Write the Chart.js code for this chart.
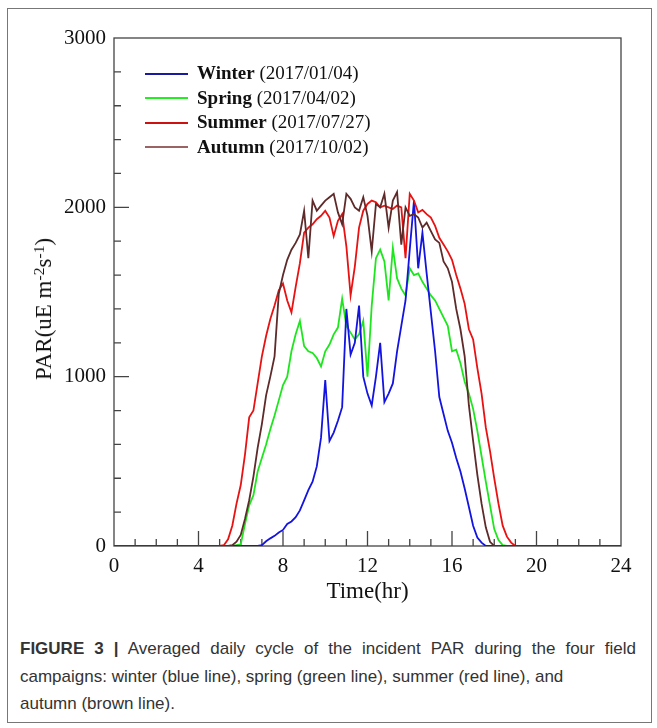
<!DOCTYPE html>
<html>
<head>
<meta charset="utf-8">
<script src="https://cdn.jsdelivr.net/npm/chart.js@4"></script>
<style>
  body { margin: 0; background: #fff; }
  #wrap { position: relative; width: 657px; height: 728px; overflow: hidden; }
  #frame { position: absolute; left: 7px; top: 8px; width: 643px; height: 713px; border: 1px solid #777; }
  #chart { position: absolute; left: 0; top: 0; }
  #legend { position: absolute; left: 145px; top: 61px; font-family: "Liberation Serif", serif; font-size: 19px; color: #111; }
  #legend .row { height: 24.5px; line-height: 24.5px; white-space: nowrap; }
  #legend .swatch { display: inline-block; width: 43px; height: 2px; vertical-align: middle; margin-right: 9px; position: relative; top: -1px; }
  #ytitle { position: absolute; left: 44px; top: 309px; transform: translate(-50%, -50%) rotate(-90deg); white-space: nowrap; font-family: "Liberation Serif", serif; font-size: 23px; color: #111; }
  #ytitle sup { font-size: 0.68em; vertical-align: 0.45em; line-height: 0; }
  #caption { position: absolute; left: 20px; top: 635px; font-family: "Liberation Sans", Arial, sans-serif; font-size: 17px; line-height: 27.5px; color: #333; }
  #caption div { white-space: nowrap; }
  #caption .first { width: 616px; text-align: justify; text-align-last: justify; }
</style>
</head>
<body>
<div id="wrap">
  <div id="frame"></div>
  <canvas id="chart" width="657" height="620"></canvas>
  <div id="ytitle">PAR(uE m<sup>-2</sup>s<sup>-1</sup>)</div>
  <div id="legend"></div>
  <div id="caption">
    <div class="first"><b>FIGURE 3 |</b> Averaged daily cycle of the incident PAR during the four field</div>
    <div>campaigns: winter (blue line), spring (green line), summer (red line), and</div>
    <div>autumn (brown line).</div>
  </div>
</div>
<script>
"use strict";

// time of day (hr), read every 0.2 hr through daylight
let hours = [0,
  5.0, 5.2, 5.4, 5.6, 5.8, 6.0, 6.2, 6.4, 6.6, 6.8,
  7.0, 7.2, 7.4, 7.6, 7.8, 8.0, 8.2, 8.4, 8.6, 8.8,
  9.0, 9.2, 9.4, 9.6, 9.8, 10.0, 10.2, 10.4, 10.6, 10.8,
  11.0, 11.2, 11.4, 11.6, 11.8, 12.0, 12.2, 12.4, 12.6, 12.8,
  13.0, 13.2, 13.4, 13.6, 13.8, 14.0, 14.2, 14.4, 14.6, 14.8,
  15.0, 15.2, 15.4, 15.6, 15.8, 16.0, 16.2, 16.4, 16.6, 16.8,
  17.0, 17.2, 17.4, 17.6, 17.8, 18.0, 18.2, 18.4, 18.6, 18.8,
  19.0, 19.2, 24];

let winter = [0,
  0, 0, 0, 0, 0, 0, 0, 0, 0, 0,
  5, 28, 45, 60, 80, 95, 130, 145, 170, 210,
  270, 330, 380, 470, 640, 980, 620, 670, 740, 820,
  1400, 1130, 1200, 1420, 1000, 900, 830, 1000, 1200, 850,
  900, 960, 1150, 1300, 1450, 1750, 2040, 1640, 1850, 1610,
  1380, 1150, 880, 780, 680, 610, 520, 440, 340, 230,
  120, 50, 20, 0, 0, 0, 0, 0, 0, 0,
  0, 0, 0];

let spring = [0,
  0, 0, 0, 0, 5, 10, 130, 240, 300, 440,
  520, 600, 690, 770, 860, 950, 1000, 1150, 1250, 1330,
  1180, 1150, 1140, 1110, 1060, 1150, 1190, 1250, 1290, 1460,
  1300, 1260, 1220, 1250, 1330, 1000, 1420, 1700, 1750, 1680,
  1450, 1760, 1580, 1520, 1480, 1640, 1600, 1610, 1560, 1520,
  1480, 1450, 1400, 1350, 1300, 1150, 1160, 1080, 970, 900,
  810, 680, 530, 380, 240, 100, 35, 5, 0, 0,
  0, 0, 0];

let summer = [0,
  0, 5, 40, 120, 250, 360, 540, 760, 800, 960,
  1120, 1240, 1340, 1420, 1510, 1550, 1450, 1380, 1530, 1670,
  1850, 1880, 1900, 1930, 1950, 1980, 1940, 1830, 1920, 1960,
  1770, 1480, 1650, 1880, 1980, 2020, 2040, 2030, 2000, 2010,
  2000, 1990, 2010, 2000, 1700, 2080, 2040, 1970, 1985, 1960,
  1940, 1890, 1820, 1780, 1740, 1690, 1600, 1520, 1430, 1280,
  1220, 1050, 900, 700, 560, 400, 250, 120, 55, 20,
  0, 0, 0];

let autumn = [0,
  0, 0, 0, 5, 25, 65, 160, 270, 410, 580,
  720, 890, 1000, 1120, 1490, 1600, 1690, 1750, 1790, 1840,
  1980, 1700, 2040, 1980, 2010, 2040, 2060, 2080, 1970, 1900,
  2080, 2050, 2000, 1980, 2060, 1950, 1740, 2020, 2000, 2080,
  1880, 2040, 2090, 1780, 2000, 1950, 1960, 1940, 1880, 1910,
  1860, 1810, 1790, 1680, 1640, 1560, 1400, 1280, 1120, 830,
  620, 420, 250, 110, 25, 0, 0, 0, 0, 0,
  0, 0, 0];

let seasons = [
  { name: "Winter", date: "(2017/01/04)", data: winter, color: "#1414e0", key: "#1a1aa0", order: 3 },
  { name: "Spring", date: "(2017/04/02)", data: spring, color: "#1ee61e", key: "#22ee22", order: 4 },
  { name: "Summer", date: "(2017/07/27)", data: summer, color: "#e81212", key: "#cc1111", order: 2 },
  { name: "Autumn", date: "(2017/10/02)", data: autumn, color: "#5e2a2a", key: "#9a6464", order: 1 }
];

let xTicks = [0, 4, 8, 12, 16, 20, 24];
let yTicks = [0, 1000, 2000, 3000];

// legend as html so the name can be bold and the date plain
let legend = document.getElementById("legend");
seasons.forEach(function(s) {
  let row = document.createElement("div");
  row.className = "row";
  row.innerHTML = '<span class="swatch" style="background:' + s.key + '"></span><b>' + s.name + "</b> " + s.date;
  legend.appendChild(row);
});

// frame plus inward ticks, drawn under the lines
const frameTicks = {
  id: "frameTicks",
  beforeDatasetsDraw(chart) {
    const ctx = chart.ctx;
    const a = chart.chartArea;
    const xs = chart.scales.x;
    const ys = chart.scales.y;
    ctx.save();
    ctx.strokeStyle = "#444";
    ctx.lineWidth = 1.3;
    ctx.strokeRect(a.left, a.top, a.right - a.left, a.bottom - a.top);
    ctx.beginPath();
    for (let h = 1; h < 24; h++) {
      let px = xs.getPixelForValue(h);
      let len = h % 4 === 0 ? 15 : 7;
      ctx.moveTo(px, a.bottom);
      ctx.lineTo(px, a.bottom - len);
    }
    for (let v = 200; v < 3000; v += 200) {
      let py = ys.getPixelForValue(v);
      let len = v % 1000 === 0 ? 15 : 7;
      ctx.moveTo(a.left, py);
      ctx.lineTo(a.left + len, py);
    }
    ctx.stroke();
    ctx.restore();
  }
};

const serif = "'Liberation Serif', 'Times New Roman', serif";

new Chart(document.getElementById("chart"), {
  type: "line",
  data: {
    datasets: seasons.map(function(s) {
      return {
        label: s.name + " " + s.date,
        data: hours.map(function(h, i) { return { x: h, y: s.data[i] }; }),
        borderColor: s.color,
        borderWidth: 1.8,
        pointRadius: 0,
        tension: 0,
        fill: false,
        order: s.order
      };
    })
  },
  options: {
    responsive: false,
    animation: false,
    devicePixelRatio: 1,
    layout: { padding: { left: 0, top: 38, right: 36, bottom: 0 } },
    plugins: { legend: { display: false }, tooltip: { enabled: false } },
    scales: {
      x: {
        type: "linear",
        min: 0,
        max: 24,
        afterFit(scale) { scale.height = 74; },
        afterBuildTicks(scale) { scale.ticks = xTicks.map(v => ({ value: v })); },
        grid: { display: false, drawTicks: false },
        border: { display: false },
        ticks: { padding: 8, color: "#111", font: { family: serif, size: 21 }, callback: v => String(v) },
        title: { display: true, text: "Time(hr)", color: "#111", padding: { top: 0, bottom: 14 }, font: { family: serif, size: 23 } }
      },
      y: {
        min: 0,
        max: 3000,
        afterFit(scale) { scale.width = 114; },
        afterBuildTicks(scale) { scale.ticks = yTicks.map(v => ({ value: v })); },
        grid: { display: false, drawTicks: false },
        border: { display: false },
        ticks: { padding: 8, color: "#111", font: { family: serif, size: 21 }, callback: v => String(v) },
        title: { display: false }
      }
    }
  },
  plugins: [frameTicks]
});
</script>
</body>
</html>
